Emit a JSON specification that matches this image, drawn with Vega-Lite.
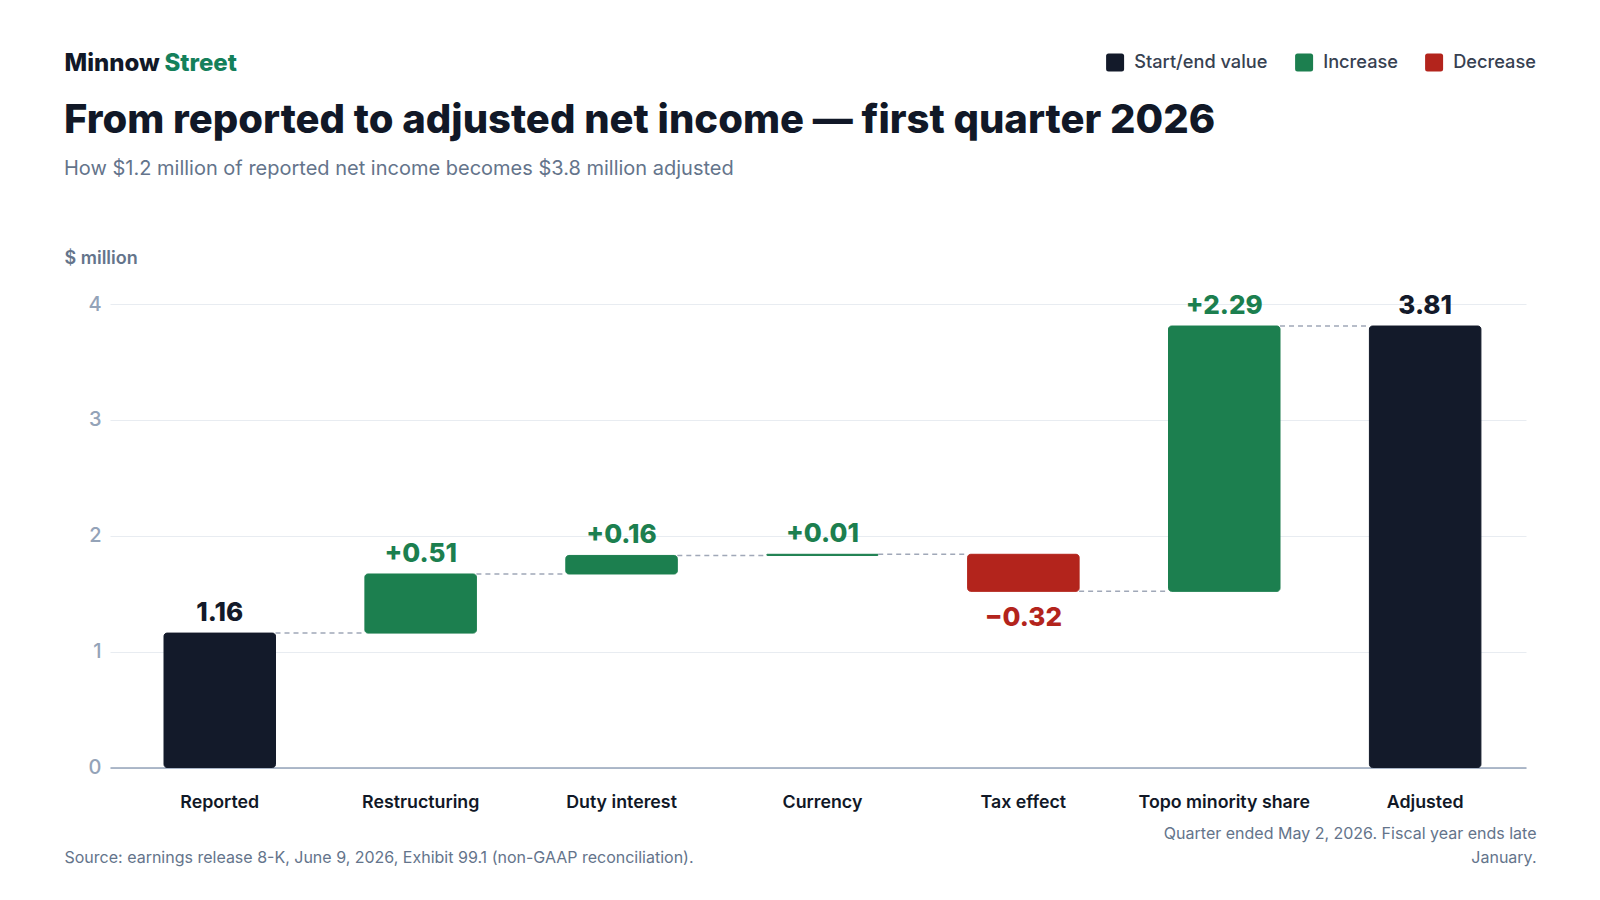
{
  "$schema": "https://vega.github.io/schema/vega-lite/v6.json",
  "width": 1416,
  "height": 463.5,
  "autosize": {"type": "none"},
  "padding": {"left": 110, "top": 304, "right": 74, "bottom": 132.5},
  "background": "#ffffff",
  "config": {"font": "Inter", "view": {"stroke": null}},
  "title": {
    "text": "From reported to adjusted net income — first quarter 2026",
    "subtitle": "How $1.2 million of reported net income becomes $3.8 million adjusted",
    "anchor": "start",
    "frame": "group",
    "dx": -46,
    "dy": 128,
    "offset": 0,
    "fontSize": 40,
    "fontWeight": 800,
    "color": "#111827",
    "subtitleFontSize": 20,
    "subtitleFontWeight": 400,
    "subtitleColor": "#64748b",
    "subtitlePadding": 18.5
  },
  "data": {
    "values": [
      {"step": "Reported", "type": "Start/end value", "start": 0, "end": 1.16, "label": "1.16", "next": "Restructuring"},
      {"step": "Restructuring", "type": "Increase", "start": 1.16, "end": 1.67, "label": "+0.51", "next": "Duty interest"},
      {"step": "Duty interest", "type": "Increase", "start": 1.67, "end": 1.83, "label": "+0.16", "next": "Currency"},
      {"step": "Currency", "type": "Increase", "start": 1.83, "end": 1.84, "label": "+0.01", "next": "Tax effect"},
      {"step": "Tax effect", "type": "Decrease", "start": 1.84, "end": 1.52, "label": "−0.32", "next": "Topo minority share"},
      {"step": "Topo minority share", "type": "Increase", "start": 1.52, "end": 3.81, "label": "+2.29", "next": "Adjusted"},
      {"step": "Adjusted", "type": "Start/end value", "start": 0, "end": 3.81, "label": "3.81", "next": null}
    ]
  },
  "layer": [
    {
      "mark": {"type": "bar", "cornerRadius": 3, "strokeWidth": 1},
      "encoding": {
        "x": {
          "field": "step",
          "type": "nominal",
          "scale": {
            "domain": ["Reported", "Restructuring", "Duty interest", "Currency", "Tax effect", "Topo minority share", "Adjusted"],
            "paddingInner": 0.445,
            "paddingOuter": 0.2466,
            "align": 0.545
          },
          "axis": {
            "title": "Source: earnings release 8-K, June 9, 2026, Exhibit 99.1 (non-GAAP reconciliation).",
            "titleX": -46,
            "titleY": 95,
            "titleAlign": "left",
            "titleBaseline": "alphabetic",
            "titleFontSize": 16,
            "titleFontWeight": 400,
            "titleColor": "#64748b",
            "labelAngle": 0,
            "labelFontSize": 17.8,
            "labelFontWeight": 600,
            "labelColor": "#111827",
            "labelPadding": 26,
            "ticks": false,
            "tickSize": 0,
            "domainColor": "#94a3b8",
            "domainWidth": 1.5,
            "grid": false
          }
        },
        "y": {
          "field": "start",
          "type": "quantitative",
          "scale": {"domain": [0, 4], "nice": false},
          "axis": {
            "title": "$ million",
            "titleX": -46,
            "titleY": -41,
            "titleAngle": 0,
            "titleAlign": "left",
            "titleBaseline": "alphabetic",
            "titleFontSize": 18,
            "titleFontWeight": 600,
            "titleColor": "#64748b",
            "values": [0, 1, 2, 3, 4],
            "labelFontSize": 20,
            "labelFontWeight": 500,
            "labelColor": "#94a3b8",
            "labelPadding": 9,
            "ticks": false,
            "tickSize": 0,
            "domain": false,
            "gridColor": "#e8ecf1",
            "gridWidth": 1
          }
        },
        "y2": {"field": "end"},
        "color": {
          "field": "type",
          "type": "nominal",
          "scale": {
            "domain": ["Start/end value", "Increase", "Decrease"],
            "range": ["#131a2a", "#1c7f4f", "#b3241c"]
          },
          "legend": {
            "orient": "none",
            "legendX": 996,
            "legendY": -251,
            "direction": "horizontal",
            "title": null,
            "padding": 0,
            "symbolType": "M-0.72,-1H0.72Q1,-1,1,-0.72V0.72Q1,1,0.72,1H-0.72Q-1,1,-1,0.72V-0.72Q-1,-1,-0.72,-1Z",
            "symbolSize": 324,
            "symbolStrokeWidth": 0,
            "symbolOpacity": 1,
            "labelFontSize": 18.2,
            "labelFontWeight": 500,
            "labelColor": "#374151",
            "labelOffset": 10,
            "columnPadding": 27
          }
        },
        "stroke": {
          "field": "type",
          "type": "nominal",
          "scale": {
            "domain": ["Start/end value", "Increase", "Decrease"],
            "range": ["#131a2a", "#1c7f4f", "#b3241c"]
          },
          "legend": null
        }
      }
    },
    {
      "transform": [{"filter": "datum.next != null"}],
      "mark": {"type": "rule", "strokeDash": [5, 4], "strokeWidth": 1.5, "color": "#a0a8b8"},
      "encoding": {
        "x": {"field": "step", "type": "nominal", "bandPosition": 1, "axis": null},
        "x2": {"field": "next", "bandPosition": 0},
        "y": {
          "field": "end",
          "type": "quantitative",
          "axis": {
            "orient": "right",
            "title": ["Quarter ended May 2, 2026. Fiscal year ends late", "January."],
            "titleX": 10,
            "titleY": 534.5,
            "titleAngle": 0,
            "titleAlign": "right",
            "titleBaseline": "alphabetic",
            "titleLineHeight": 24.3,
            "titleFontSize": 16,
            "titleFontWeight": 400,
            "titleColor": "#64748b",
            "labels": false,
            "ticks": false,
            "domain": false,
            "grid": false
          }
        }
      }
    },
    {
      "transform": [{"filter": "datum.type != 'Decrease'"}],
      "mark": {"type": "text", "dy": -12, "fontSize": 26, "fontWeight": 800, "baseline": "alphabetic"},
      "encoding": {
        "x": {"field": "step", "type": "nominal", "axis": null},
        "y": {
          "field": "end",
          "type": "quantitative",
          "axis": {
            "orient": "left",
            "title": "Minnow",
            "titleX": -46,
            "titleY": -234,
            "titleAngle": 0,
            "titleAlign": "left",
            "titleBaseline": "alphabetic",
            "titleFontSize": 24,
            "titleFontWeight": 800,
            "titleColor": "#111827",
            "labels": false,
            "ticks": false,
            "domain": false,
            "grid": false
          }
        },
        "text": {"field": "label"},
        "color": {"field": "type", "type": "nominal"}
      }
    },
    {
      "transform": [{"filter": "datum.type == 'Decrease'"}],
      "mark": {"type": "text", "dy": 35, "fontSize": 26, "fontWeight": 800, "baseline": "alphabetic"},
      "encoding": {
        "x": {"field": "step", "type": "nominal", "axis": null},
        "y": {
          "field": "end",
          "type": "quantitative",
          "axis": {
            "orient": "right",
            "title": "Street",
            "titleX": -1362,
            "titleY": -234,
            "titleAngle": 0,
            "titleAlign": "left",
            "titleBaseline": "alphabetic",
            "titleFontSize": 24,
            "titleFontWeight": 800,
            "titleColor": "#14805b",
            "labels": false,
            "ticks": false,
            "domain": false,
            "grid": false
          }
        },
        "text": {"field": "label"},
        "color": {"field": "type", "type": "nominal"}
      }
    }
  ],
  "resolve": {"axis": {"x": "independent", "y": "independent"}}
}
